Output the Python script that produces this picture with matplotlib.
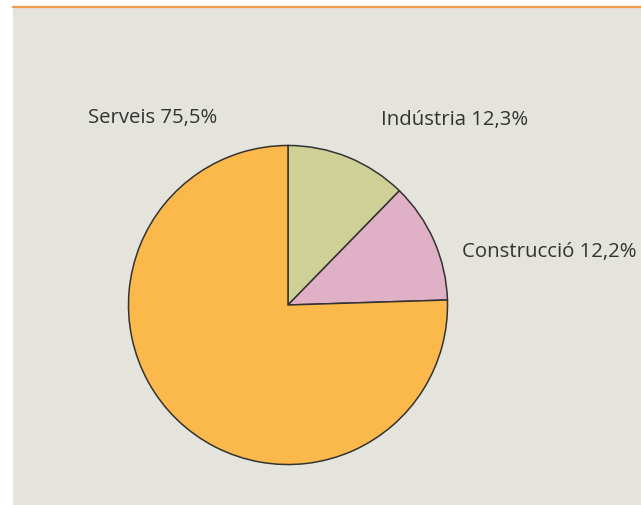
import matplotlib
matplotlib.use('Agg')
import matplotlib.pyplot as plt
from matplotlib.lines import Line2D

plt.rcParams['font.family'] = ['Open Sans', 'DejaVu Sans']

# data
sectors = ['Indústria', 'Construcció', 'Serveis']
shares = [12.3, 12.2, 75.5]
colors = ['#CFD096', '#DFB0C6', '#FBB94C']
# label anchor (pixels, left / vertical centre)
label_pos = [(381, 120), (462, 252), (88, 118)]

W, H = 641, 506
fig = plt.figure(figsize=(W / 100, H / 100), dpi=100)
fig.patch.set_facecolor('white')

# grey panel
bg = fig.add_axes([13 / W, 0, 1 - 13 / W, 1 - 9 / H], zorder=0)
bg.set_facecolor('#E5E4DC')
bg.set_xticks([])
bg.set_yticks([])
for s in bg.spines.values():
    s.set_visible(False)

# orange rule on top
fig.lines.append(Line2D([13 / W, 1], [1 - 8 / H, 1 - 8 / H],
                        transform=fig.transFigure, color='#F39A4C', lw=1.6))

# pie
cx, cy, r = 288, 306, 160
ax = fig.add_axes([(cx - r) / W, (H - cy - r) / H, 2 * r / W, 2 * r / H], zorder=2)
ax.pie(shares, colors=colors, startangle=90, counterclock=False,
       wedgeprops=dict(edgecolor='#333333', linewidth=1.1))
ax.set_xlim(-1.003, 1.003)
ax.set_ylim(-1.003, 1.003)
ax.axis('off')

for name, val, (px, py) in zip(sectors, shares, label_pos):
    txt = f'{name} {val:.1f}%'.replace('.', ',')
    fig.text(px / W, 1 - py / H, txt, fontsize=14.7, color='#333333',
             ha='left', va='center', zorder=3)

plt.savefig('out.png', dpi=100)
